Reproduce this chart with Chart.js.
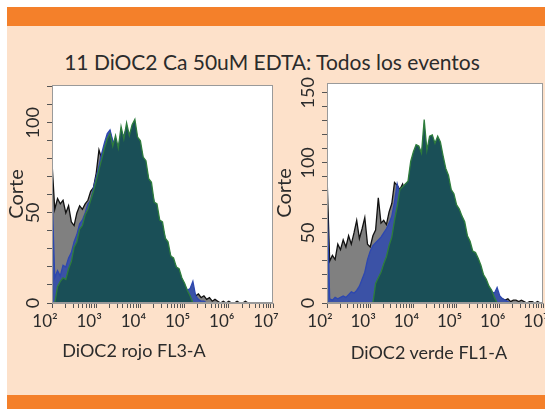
<!DOCTYPE html>
<html>
<head>
<meta charset="utf-8">
<script src="https://cdn.jsdelivr.net/npm/chart.js@4.4.1/dist/chart.umd.min.js"></script>
<style>
  html, body { margin: 0; padding: 0; background: #fff; }
  #page { position: relative; width: 545px; height: 409px; overflow: hidden; font-family: Lato, sans-serif; color: #2b2b2b; }
  #panel { position: absolute; left: 7px; top: 7px; right: 0; bottom: 0; background: #fde1ca; }
  .band { position: absolute; left: 7px; right: 0; background: #f4802a; }
  .txt { position: absolute; white-space: nowrap; transform: translateX(-50%); }
  canvas { position: absolute; }
</style>
</head>
<body>
<div id="page">
  <div id="panel"></div>
  <div class="band" style="top:7px;height:19px"></div>
  <div class="band" style="top:395px;height:14px"></div>
  <div class="txt" style="left:272px;top:49px;font-size:21px">11 DiOC2 Ca 50uM EDTA: Todos los eventos</div>
  <canvas id="leftChart" width="285" height="270" style="left:0;top:70px"></canvas>
  <canvas id="rightChart" width="277" height="270" style="left:268px;top:70px"></canvas>
  <div class="txt" style="left:134px;top:339px;font-size:18px">DiOC2 rojo FL3-A</div>
  <div class="txt" style="left:429px;top:341px;font-size:18px">DiOC2 verde FL1-A</div>
</div>
<script>
// histogram bins: 16 per decade, starting at 10^2
const binsPerDecade = 16;
const firstDecade = 2;

// left panel: DiOC2 rojo FL3-A
const leftGrey = [78, 52, 58, 55, 57, 50, 54, 45, 43, 50, 54, 52, 55, 57, 62, 64, 72, 85, 80, 87,
  91, 95, 89, 88, 86, 93, 92, 97, 91, 95, 97, 90, 86, 79, 75, 67, 62, 55, 50, 44,
  41, 35, 30, 25, 22, 19, 16, 12, 9, 6, 5, 7, 4, 5, 3, 4, 2, 3, 1, 2,
  1, 0, 1, 0, 1, 0, 0, 1, 0, 0, 1, 0, 0, 0, 0, 0, 0, 0, 0, 0, 0];
const leftBlue = [61, 14, 18, 15, 21, 20, 25, 28, 34, 38, 44, 46, 50, 55, 57, 64, 70, 76, 83, 89,
  94, 96, 90, 89, 86, 94, 93, 97, 92, 96, 98, 91, 87, 80, 76, 68, 63, 56, 51, 45,
  42, 36, 31, 26, 23, 20, 17, 13, 10, 7, 8, 12, 4, 2, 1, 1, 0, 0, 0, 0,
  0, 0, 0, 0, 0, 0, 0, 0, 0, 0, 0, 0, 0, 0, 0, 0, 0, 0, 0, 0, 0];
const leftTeal = [0, 0, 9, 12, 14, 13, 19, 23, 31, 34, 41, 43, 49, 52, 57, 62, 68, 74, 80, 86,
  91, 94, 87, 93, 86, 98, 91, 100, 93, 99, 102, 92, 90, 81, 79, 69, 67, 56, 55, 46,
  45, 36, 34, 26, 25, 20, 19, 14, 11, 7, 4, 0, 0, 0, 0, 0, 0, 0, 0, 0,
  0, 0, 0, 0, 0, 0, 0, 0, 0, 0, 0, 0, 0, 0, 0, 0, 0, 0, 0, 0, 0];

// right panel: DiOC2 verde FL1-A
const rightGrey = [91, 30, 34, 31, 42, 38, 45, 40, 48, 42, 50, 59, 46, 53, 61, 42, 40, 48, 52, 75,
  57, 59, 56, 65, 71, 86, 84, 81, 85, 79, 84, 95, 103, 107, 109, 102, 122, 104, 111, 114,
  110, 111, 109, 98, 92, 85, 78, 72, 67, 62, 59, 52, 46, 40, 35, 32, 29, 23, 18, 14,
  10, 7, 6, 5, 4, 3, 2, 3, 1, 2, 2, 1, 2, 1, 0, 1, 1, 0, 1, 0, 0];
const rightBlue = [74, 3, 2, 4, 3, 4, 5, 4, 6, 8, 7, 9, 12, 17, 22, 31, 37, 41, 43, 45,
  47, 50, 53, 57, 62, 72, 85, 78, 83, 80, 85, 96, 104, 108, 110, 103, 124, 106, 113, 116,
  112, 113, 111, 100, 94, 86, 80, 74, 69, 63, 61, 54, 47, 41, 36, 33, 31, 24, 19, 15,
  11, 8, 7, 11, 5, 3, 2, 1, 0, 0, 0, 0, 0, 0, 0, 0, 0, 0, 0, 0, 0];
const rightTeal = [0, 0, 0, 0, 0, 0, 0, 0, 0, 0, 0, 0, 0, 0, 0, 0, 0, 0, 14, 18,
  22, 28, 33, 41, 47, 59, 69, 81, 83, 85, 87, 101, 108, 113, 112, 107, 131, 109, 119, 120,
  114, 119, 115, 105, 96, 91, 81, 78, 70, 67, 62, 58, 48, 44, 37, 36, 32, 27, 20, 17,
  12, 9, 4, 0, 0, 0, 0, 0, 0, 0, 0, 0, 0, 0, 0, 0, 0, 0, 0, 0, 0];

const decadeLabels = ["10²", "10³", "10⁴", "10⁵", "10⁶", "10⁷"];
const leftYMax = 121;
const rightYMax = 157;

Chart.defaults.font.family = "Lato, sans-serif";
Chart.defaults.color = "#2b2b2b";

function toPoints(values) {
  return values.map((v, i) => ({ x: Math.pow(10, firstDecade + i / binsPerDecade), y: v }));
}

const plotFrame = {
  id: "plotFrame",
  beforeDraw(chart) {
    const { ctx, chartArea: a } = chart;
    ctx.save();
    ctx.fillStyle = "#ffffff";
    ctx.fillRect(a.left, a.top, a.right - a.left, a.bottom - a.top);
    ctx.restore();
  },
  afterDatasetsDraw(chart) {
    const { ctx, chartArea: a } = chart;
    ctx.save();
    ctx.strokeStyle = "#9a9a9a";
    ctx.lineWidth = 1;
    ctx.strokeRect(a.left + 0.5, a.top + 0.5, a.right - a.left - 1, a.bottom - a.top - 1);
    ctx.restore();
  },
};

function makeChart(id, grey, blue, teal, yMax, yAxisWidth, pad) {
  const xTicks = [];
  for (let e = 2; e < 7; e++) for (let m = 1; m < 10; m++) xTicks.push(m * Math.pow(10, e));
  xTicks.push(1e7);

  return new Chart(document.getElementById(id), {
    type: "line",
    data: {
      datasets: [
        { data: toPoints(teal), borderColor: "#2e7d3c", backgroundColor: "#1a4f57", order: 0 },
        { data: toPoints(blue), borderColor: "#2d47b0", backgroundColor: "#3b52a6", order: 1 },
        { data: toPoints(grey), borderColor: "#111111", backgroundColor: "#808080", order: 2 },
      ],
    },
    options: {
      responsive: false,
      animation: false,
      devicePixelRatio: 1,
      layout: { padding: pad },
      elements: {
        line: { borderWidth: 1.3, tension: 0, fill: "origin" },
        point: { radius: 0 },
      },
      plugins: { legend: { display: false }, tooltip: { enabled: false } },
      scales: {
        x: {
          type: "logarithmic",
          min: 100,
          max: 1e7,
          afterBuildTicks: (s) => { s.ticks = xTicks.map((v) => ({ value: v })); },
          afterFit: (s) => { s.height = 37; s.paddingLeft = 0; s.paddingRight = 0; },
          grid: { drawOnChartArea: false, tickLength: 5, color: "#555" },
          border: { color: "#9a9a9a" },
          ticks: {
            autoSkip: false,
            maxRotation: 0,
            padding: 3,
            labelOffset: -7,
            font: { size: 17 },
            callback: (v) => {
              const e = Math.log10(v);
              return Math.abs(e - Math.round(e)) < 1e-6 ? decadeLabels[Math.round(e) - 2] : "";
            },
          },
        },
        y: {
          min: 0,
          max: yMax,
          afterBuildTicks: (s) => {
            const t = [];
            for (let v = 0; v <= yMax; v += 10) t.push({ value: v });
            s.ticks = t;
          },
          afterFit: (s) => { s.width = yAxisWidth; s.paddingTop = 0; s.paddingBottom = 0; },
          grid: { drawOnChartArea: false, tickLength: 5, color: "#555" },
          border: { color: "#9a9a9a" },
          ticks: {
            autoSkip: false,
            minRotation: 90,
            maxRotation: 90,
            crossAlign: "center",
            padding: -2,
            font: { size: 18 },
            callback: (v) => (v % 50 === 0 ? String(v) : ""),
          },
          title: { display: true, text: "Corte", font: { size: 20 }, padding: { top: 5, bottom: 0 } },
        },
      },
    },
    plugins: [plotFrame],
  });
}

makeChart("leftChart", leftGrey, leftBlue, leftTeal, leftYMax, 52, { top: 15, right: 12, bottom: 0, left: 0 });
makeChart("rightChart", rightGrey, rightBlue, rightTeal, rightYMax, 59, { top: 13, right: 2, bottom: 0, left: 0 });
</script>
</body>
</html>
